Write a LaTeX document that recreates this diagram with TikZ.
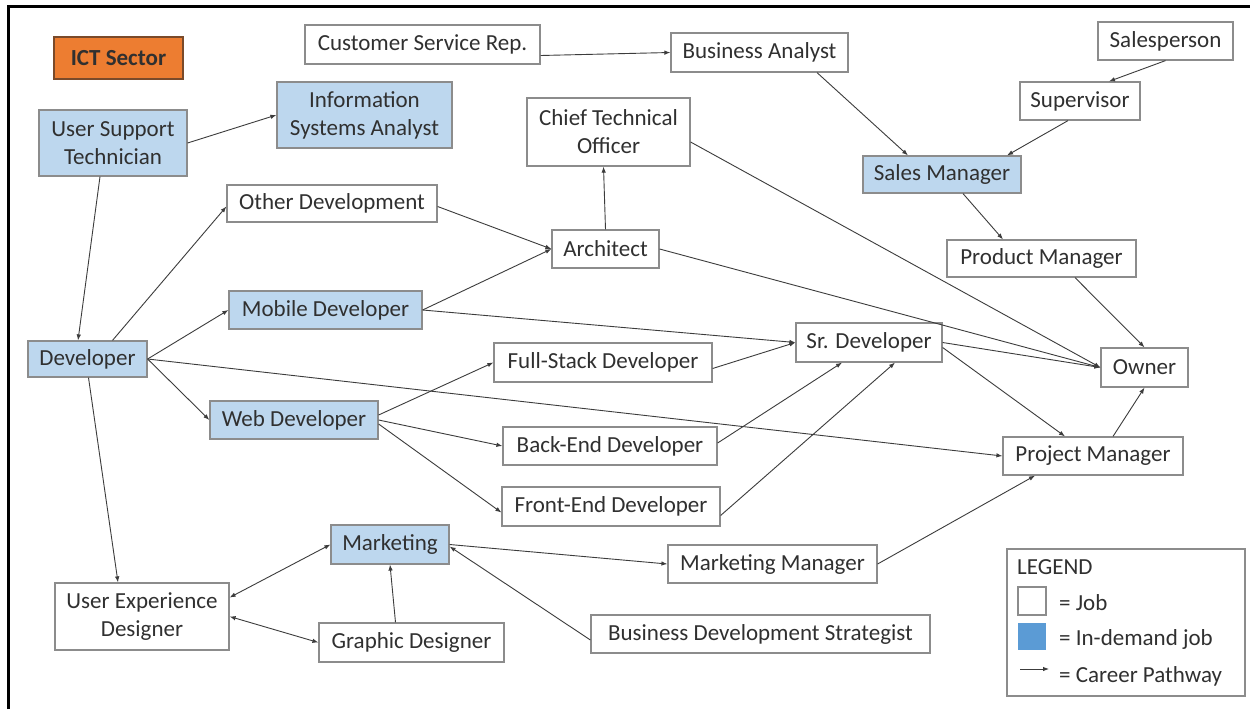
\documentclass[tikz,border=0pt]{standalone}
\usepackage{fontspec}
\setmainfont{Carlito}
\usetikzlibrary{arrows.meta,calc}
\definecolor{txt}{HTML}{303030}
\definecolor{boxline}{HTML}{8C8C8C}
\definecolor{jobblue}{HTML}{BDD7EE}
\definecolor{legblue}{HTML}{5B9BD5}
\definecolor{ictorange}{HTML}{ED7D31}
\definecolor{ictline}{HTML}{7A4A2A}
\definecolor{pathcol}{HTML}{3C3C3C}
\tikzset{
  job/.style={draw=boxline, line width=1.2pt, fill=white, text=txt, inner sep=0pt, align=center},
  hotjob/.style={job, fill=jobblue},
  ictbox/.style={draw=ictline, line width=1.2pt, fill=ictorange, text=txt, inner sep=0pt, font=\fontsize{23}{28}\selectfont\bfseries},
  path/.style={draw=pathcol, line width=0.9pt, -{Latex[length=6pt,width=4.5pt]}},
  both/.style={draw=pathcol, line width=0.9pt, {Latex[length=6pt,width=4.5pt]}-{Latex[length=6pt,width=4.5pt]}},
  legtext/.style={anchor=west, text=txt, inner sep=0pt},
}
\begin{document}
\begin{tikzpicture}[x=1pt,y=-1pt,font=\fontsize{23}{28}\selectfont]
\useasboundingbox (0,0) rectangle (1257,709);
\fill[white] (0,0) rectangle (1257,709);
\draw[line width=3pt, black] (8,709) -- (8,7) -- (1250,7);

% nodes
\node[ictbox, minimum width=129pt, minimum height=42pt] (ict) at (118.5,58) {ICT Sector};
\node[hotjob, minimum width=148pt, minimum height=66pt] (ust) at (113,143) {User Support\\Technician};
\node[hotjob, minimum width=175pt, minimum height=66pt] (isa) at (364.5,115) {Information\\Systems Analyst};
\node[job, minimum width=235pt, minimum height=39pt] (csr) at (422.5,44.5) {Customer Service Rep.};
\node[job, minimum width=177pt, minimum height=39pt] (ba) at (759.5,52.5) {Business Analyst};
\node[job, minimum width=135pt, minimum height=38pt] (sp) at (1165.5,41) {Salesperson};
\node[job, minimum width=120pt, minimum height=38pt] (sup) at (1080,101) {Supervisor};
\node[job, minimum width=163pt, minimum height=68pt] (cto) at (608.5,132) {Chief Technical\\Officer};
\node[hotjob, minimum width=158pt, minimum height=37pt] (sm) at (942,174.5) {Sales Manager};
\node[job, minimum width=210pt, minimum height=37pt] (od) at (332,203.5) {Other Development};
\node[job, minimum width=107pt, minimum height=38pt] (arch) at (605.5,249) {Architect};
\node[job, minimum width=189pt, minimum height=37pt] (pm) at (1041.5,258.5) {Product Manager};
\node[hotjob, minimum width=193pt, minimum height=38pt] (mob) at (325.5,310) {Mobile Developer};
\node[hotjob, minimum width=119pt, minimum height=36pt] (dev) at (87.5,359) {Developer};
\node[job, minimum width=146pt, minimum height=39pt] (srd) at (869,342.5) {Sr. Developer};
\node[job, minimum width=87pt, minimum height=39pt] (own) at (1144.5,367.5) {Owner};
\node[job, minimum width=218pt, minimum height=39pt] (fs) at (603,362.5) {Full-Stack Developer};
\node[job, minimum width=214pt, minimum height=38pt] (be) at (610,446) {Back-End Developer};
\node[job, minimum width=180pt, minimum height=38pt] (prj) at (1093,456) {Project Manager};
\node[job, minimum width=218pt, minimum height=39pt] (fe) at (611,506.5) {Front-End Developer};
\node[hotjob, minimum width=168pt, minimum height=38pt] (web) at (294,420) {Web Developer};
\node[hotjob, minimum width=118pt, minimum height=39pt] (mkt) at (390,544.5) {Marketing};
\node[job, minimum width=209pt, minimum height=38pt] (mm) at (772.5,564) {Marketing Manager};
\node[job, minimum width=174pt, minimum height=67pt] (ux) at (142,616.5) {User Experience\\Designer};
\node[job, minimum width=185pt, minimum height=39pt] (gd) at (411.5,642.5) {Graphic Designer};
\node[job, minimum width=339pt, minimum height=38pt] (bds) at (760.5,634) {Business Development Strategist};

% legend
\node[job, minimum width=238pt, minimum height=147pt] (leg) at (1126,622.5) {};
\node[legtext] (legt) at (1017,567) {LEGEND};
\node[draw=boxline, line width=1.2pt, fill=white, minimum width=28pt, minimum height=28pt, inner sep=0pt] (legw) at (1032,601) {};
\node[legtext] (legj) at (1059,603) {= Job};
\node[fill=legblue, minimum width=28pt, minimum height=27pt, inner sep=0pt] (legb) at (1032,636.5) {};
\node[legtext] (legd) at (1059,639) {= In-demand job};
\coordinate (la1) at (1020,669);
\coordinate (la2) at (1049,669);
\draw[path] (la1) -- (la2);
\node[legtext] (legc) at (1059,676) {= Career Pathway};

% connectors
\draw[path] (ust.east) -- (isa.west);
\draw[path] ([xshift=-13pt]ust.south) -- ([xshift=-9.5pt]dev.north);
\draw[path] ([yshift=-11pt]csr.east) -- (ba.west);
\draw[path] ([xshift=57.5pt]ba.south) -- ([xshift=-34pt]sm.north);
\draw[path] (sp.south) -- ([xshift=29pt]sup.north);
\draw[path] ([xshift=-12pt]sup.south) -- ([xshift=65pt]sm.north);
\draw[path] ([xshift=21pt]sm.south) -- ([xshift=-38.5pt]pm.north);
\draw[path] (arch.north) -- ([xshift=-5pt]cto.south);
\draw[path] ([yshift=-10pt]cto.east) -- (own.west);
\draw[path] ([yshift=-3pt]od.east) -- (arch.west);
\draw[path] ([xshift=25pt]dev.north) -- ([yshift=-3pt]od.west);
\draw[path] (dev.east) -- (mob.west);
\draw[path] (dev.east) -- (web.west);
\draw[path] (dev.east) -- (prj.west);
\draw[path] ([xshift=1pt]dev.south) -- ([xshift=-24pt]ux.north);
\draw[path] (mob.east) -- (arch.west);
\draw[path] (mob.east) -- (srd.west);
\draw[path] (arch.east) -- (own.west);
\draw[path] ([xshift=33.5pt]pm.south) -- (own.north);
\draw[path] (srd.east) -- (own.west);
\draw[path] ([yshift=-5pt]srd.east) -- ([xshift=-28pt]prj.north);
\draw[path] ([xshift=20pt]prj.north) -- (own.south);
\draw[path] ([yshift=5pt]web.east) -- (fs.west);
\draw[path] (web.east) -- (be.west);
\draw[path] ([yshift=-4pt]web.east) -- ([yshift=-6pt]fe.west);
\draw[path] ([yshift=-6pt]fs.east) -- (srd.west);
\draw[path] ([yshift=3pt]be.east) -- ([xshift=-27pt]srd.south);
\draw[path] ([yshift=-9pt]fe.east) -- ([xshift=26pt]srd.south);
\draw[path] (mkt.east) -- (mm.west);
\draw[path] (mm.east) -- ([xshift=-58pt]prj.south);
\draw[both] ([yshift=19pt]ux.east) -- (mkt.west);
\draw[both] (ux.east) -- (gd.west);
\draw[path] ([xshift=-16pt]gd.north) -- (mkt.south);
\draw[path] ([yshift=-6pt]bds.west) -- ([yshift=-2pt]mkt.east);
\end{tikzpicture}
\end{document}
